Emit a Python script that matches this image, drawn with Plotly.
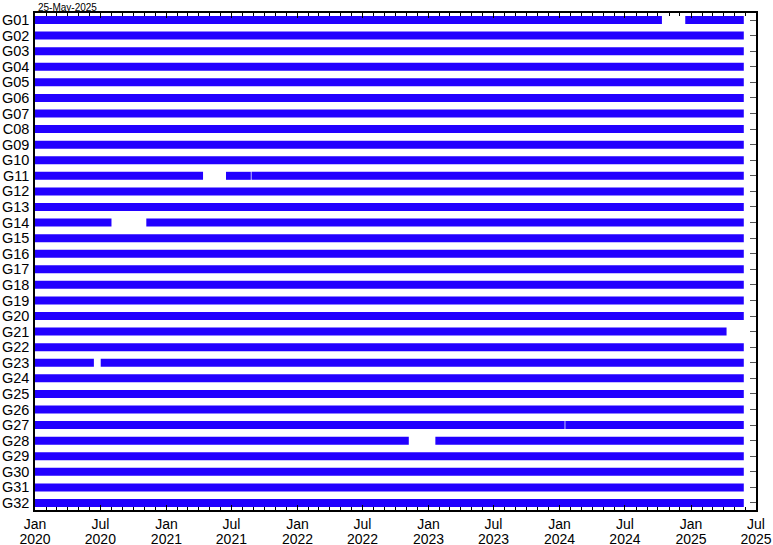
import plotly.graph_objects as go

# satellites, top to bottom
sats = ["G01", "G02", "G03", "G04", "G05", "G06", "G07", "C08", "G09", "G10",
        "G11", "G12", "G13", "G14", "G15", "G16", "G17", "G18", "G19", "G20",
        "G21", "G22", "G23", "G24", "G25", "G26", "G27", "G28", "G29", "G30",
        "G31", "G32"]

span_start = "2020-01-01"
span_end = "2025-05-28"

# satellites whose data stops early
early_sat = ["G21"]
early_end = ["2025-04-10"]

# data outages
out_sat = ["G01", "G11", "G11", "G14", "G23", "G27", "G28"]
out_from = ["2024-10-12", "2021-04-13", "2021-08-24", "2020-08-01", "2020-06-13", "2024-01-15", "2022-11-07"]
out_to = ["2024-12-16", "2021-06-16", "2021-08-26", "2020-11-06", "2020-07-02", "2024-01-17", "2023-01-20"]

date_label = "25-May-2025"

xs, ys = [], []
for s in sats:
    end = early_end[early_sat.index(s)] if s in early_sat else span_end
    gaps = sorted((f, t) for n, f, t in zip(out_sat, out_from, out_to) if n == s)
    cur = span_start
    for f, t in gaps:
        xs += [cur, f, None]
        ys += [s, s, None]
        cur = t
    xs += [cur, end, None]
    ys += [s, s, None]

fig = go.Figure()
fig.add_trace(go.Scatter(x=xs, y=ys, mode="lines", connectgaps=False,
                         line=dict(color="#2200ff", width=8), hoverinfo="skip",
                         showlegend=False))
# invisible copy on the second axes: gives the right-hand row ticks and the year row
fig.add_trace(go.Scatter(x=[span_start] * len(sats), y=sats, xaxis="x2", yaxis="y2",
                         mode="markers", marker=dict(opacity=0), hoverinfo="skip",
                         showlegend=False))

ff = "Liberation Sans, Arial, sans-serif"
tf = dict(family=ff, size=14, color="black")

fig.update_layout(
    width=773, height=545,
    margin=dict(l=35, r=17, t=13, b=35, autoexpand=False),
    paper_bgcolor="white", plot_bgcolor="white",
    font=tf,
    showlegend=False,
    xaxis=dict(
        type="date", range=["2020-01-01", "2025-07-01"],
        tick0="2020-01-01", dtick="M6", tickformat="%b",
        ticks="inside", ticklen=5, tickcolor="black",
        minor=dict(dtick="M1", ticks="inside", ticklen=3, tickcolor="black"),
        showgrid=False, zeroline=False, automargin=False,
        showline=True, linecolor="black", linewidth=1.5, mirror="allticks",
        tickfont=tf, ticklabelstandoff=0,
    ),
    xaxis2=dict(
        type="date", overlaying="x", side="bottom", matches="x", anchor="y",
        tick0="2020-01-01", dtick="M6", tickformat="%Y", ticks="",
        showgrid=False, zeroline=False, showline=False, automargin=False,
        tickfont=tf, ticklabelstandoff=19,
    ),
    yaxis=dict(
        type="category", categoryorder="array", categoryarray=sats,
        range=[31.45, -0.45], dtick=1, ticks="", showgrid=False, zeroline=False,
        showline=True, linecolor="black", linewidth=1.5, mirror=True,
        automargin=False, ticklabelstandoff=1,
        tickfont=dict(family=ff, size=14.5, color="black"),
    ),
    yaxis2=dict(
        type="category", categoryorder="array", categoryarray=sats,
        overlaying="y", side="right", matches="y", anchor="x", dtick=1,
        ticks="inside", ticklen=6, tickcolor="#555555", automargin=False,
        showticklabels=False, showgrid=False, zeroline=False, showline=False,
    ),
    annotations=[dict(text=date_label, xref="paper", yref="paper", x=0, y=1,
                      xanchor="left", yanchor="bottom", showarrow=False,
                      font=dict(family=ff, size=10, color="black"),
                      xshift=1, yshift=-2)],
)

# drop the browser's default page margin so the figure sits at the window's corner
fig.write_html("out.html", config={"displayModeBar": False},
               post_script="document.body.style.margin = '0';")
